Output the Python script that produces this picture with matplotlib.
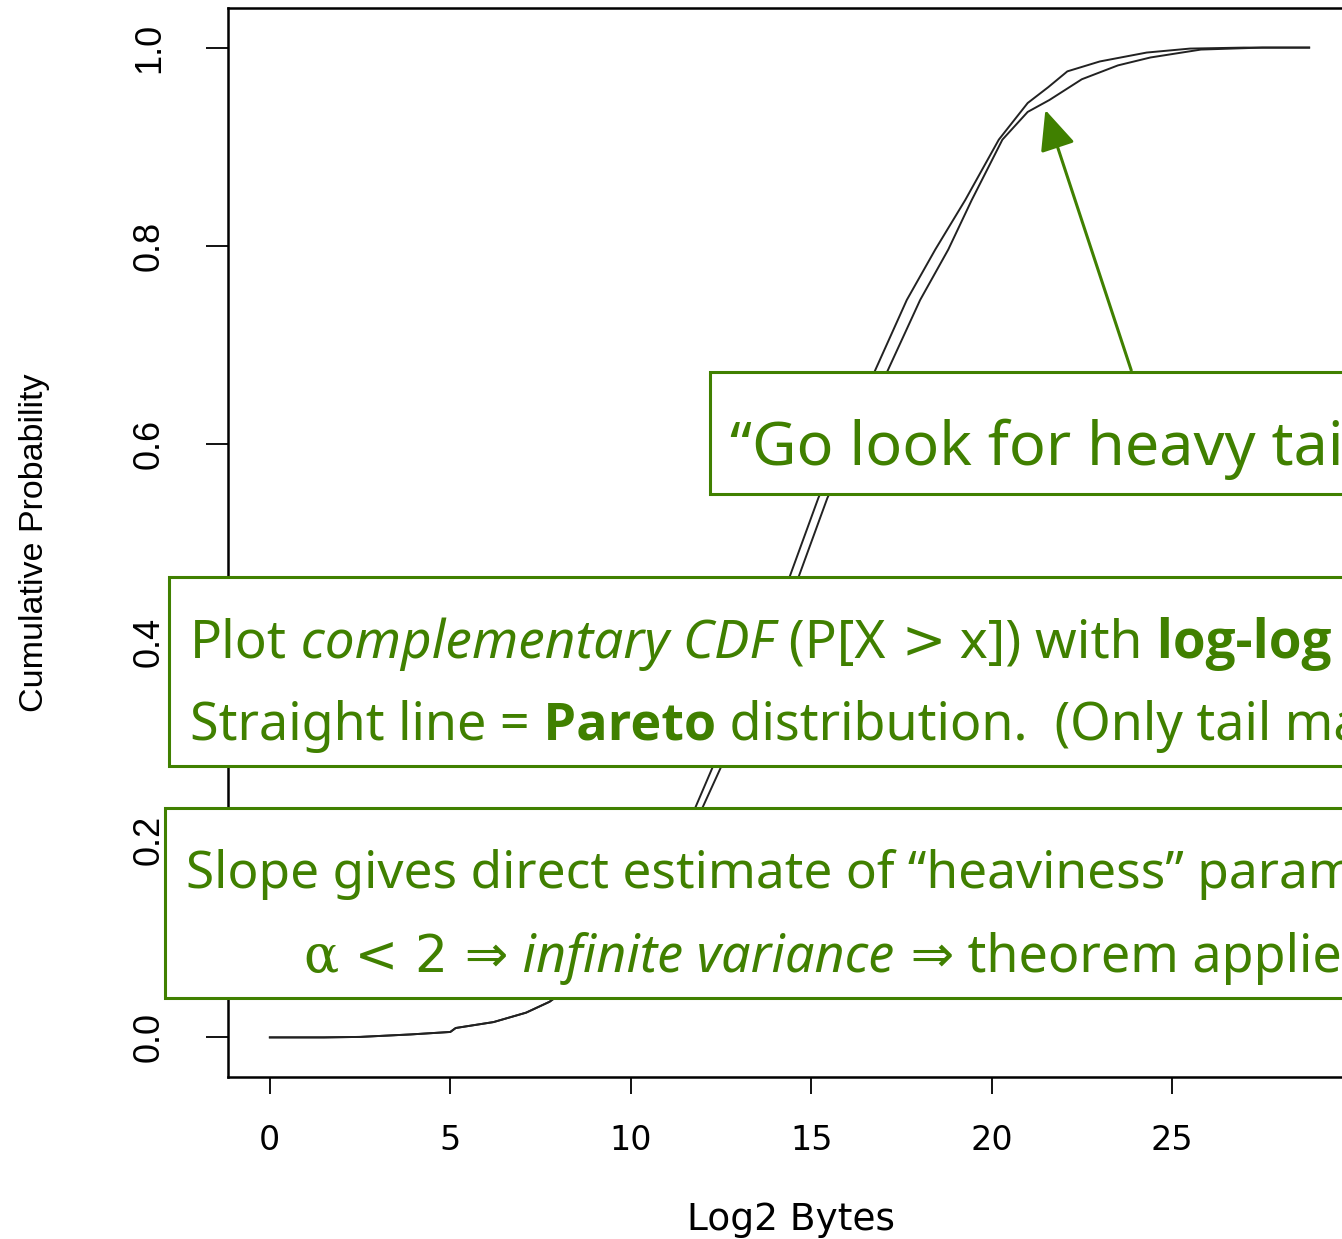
import matplotlib
matplotlib.use('Agg')
import matplotlib.pyplot as plt
from matplotlib import font_manager as fm
from matplotlib.patches import Rectangle

# --- данные: две эмпирические CDF размеров (log2 байт) ---
size_a = [0, 1.5, 2.5, 3.9, 5.0, 5.15, 6.2, 7.1, 7.75, 8.6, 9.5, 10.4, 11.2, 11.8,
          12.27, 13.0, 13.7, 14.4, 15.2, 16.0, 16.75, 17.65, 18.44, 19.27, 20.2,
          21.0, 21.57, 22.1, 23.0, 24.3, 25.5, 27.0, 28.8]
prob_a = [0, 0.0, 0.0005, 0.003, 0.0055, 0.0095, 0.0155, 0.025, 0.036, 0.06, 0.095,
          0.14, 0.19, 0.233, 0.273, 0.335, 0.40, 0.465, 0.545, 0.61, 0.672, 0.745,
          0.796, 0.846, 0.907, 0.944, 0.96, 0.976, 0.986, 0.995, 0.999, 1.0, 1.0]

size_b = [0, 1.5, 2.5, 3.9, 5.0, 5.15, 6.2, 7.1, 7.75, 8.7, 9.6, 10.5, 11.35, 12.0,
          12.5, 13.2, 13.95, 14.65, 15.45, 16.3, 17.1, 18.02, 18.8, 19.45, 20.3,
          21.0, 21.6, 22.5, 23.5, 24.4, 25.8, 27.5, 28.8]
prob_b = [0, 0.0, 0.0005, 0.003, 0.0055, 0.0095, 0.0155, 0.025, 0.036, 0.06, 0.095,
          0.14, 0.19, 0.233, 0.273, 0.335, 0.40, 0.465, 0.545, 0.61, 0.672, 0.745,
          0.796, 0.846, 0.907, 0.935, 0.947, 0.968, 0.982, 0.99, 0.998, 1.0, 1.0]

x_ticks = [0, 5, 10, 15, 20, 25]
y_ticks = [0.0, 0.2, 0.4, 0.6, 0.8, 1.0]
y_tick_labels = ['0.0', '0.2', '0.4', '0.6', '0.8', '1.0']

GREEN = '#408000'
W, H = 1342, 1239

fig = plt.figure(figsize=(W / 100, H / 100), dpi=100)
ax = fig.add_axes([228 / W, 1 - 1077 / H, (1351 - 228) / W, (1077 - 8) / H])

ax.plot(size_a, prob_a, color='#222222', lw=1.4)
ax.plot(size_b, prob_b, color='#222222', lw=1.4)

ax.set_xlim(-1.16, 29.96)
ax.set_ylim(-0.04, 1.04)
for sp in ax.spines.values():
    sp.set_linewidth(1.8)

ax.set_xticks(x_ticks)
ax.set_xticklabels([str(v) for v in x_ticks], family='DejaVu Sans', fontsize=24)
ax.set_yticks(y_ticks)
ax.set_yticklabels(y_tick_labels, family='Liberation Sans', fontsize=26,
                   rotation=90, va='center')
ax.tick_params(axis='x', direction='out', length=12, width=1.3, pad=22)
ax.tick_params(axis='y', direction='out', length=16, width=1.3, pad=28)

fig.text(35 / W, 1 - 543 / H, 'Cumulative Probability', rotation=90,
         ha='center', va='center', family='Liberation Sans', fontsize=24.5)
fig.text(791 / W, 1 - 1220 / H, 'Log2 Bytes', ha='center', va='center',
         family='DejaVu Sans', fontsize=27)

# стрелка к хвосту распределения
ax.annotate('', xy=(21.49, 0.937), xytext=(23.87, 0.674),
            arrowprops=dict(arrowstyle='-|>,head_length=0.45,head_width=0.2',
                            color=GREEN, lw=2.2, mutation_scale=55,
                            shrinkA=0, shrinkB=0))

# --- зелёные плашки с подписями ---
def box(x0, y0, x1, y1):
    fig.patches.append(Rectangle((x0 / W, 1 - y1 / H), (x1 - x0) / W, (y1 - y0) / H,
                                 transform=fig.transFigure, facecolor='white',
                                 edgecolor=GREEN, lw=2.2, zorder=1))

box(710, 372, 1400, 494)
box(169, 577, 1400, 766)
box(165, 808, 1400, 998)


def has_bold(name):
    for f in fm.fontManager.ttflist:
        if f.name != name:
            continue
        w = f.weight
        if isinstance(w, str):
            w = fm.weight_dict.get(w, 400)
        if w >= 600:
            return True
    return False

bold_family = next((n for n in ['Noto Sans', 'Open Sans', 'Lato', 'Roboto']
                    if has_bold(n)), 'DejaVu Sans')

FS = 37.5
body = dict(family=['Noto Sans', 'DejaVu Sans'], fontsize=FS)
ital = dict(body, style='italic')
bold = dict(family=[bold_family, 'DejaVu Sans'], fontsize=FS, weight='bold')
sym = dict(family=['DejaVu Sans'], fontsize=FS)
greek = dict(family=['DejaVu Serif'], fontsize=FS)
big = dict(body, fontsize=44)

renderer = fig.canvas.get_renderer()

def rich_line(x_px, base_px, parts, size=None):
    x = x_px
    for s, kw in parts:
        if size:
            kw = dict(kw, fontsize=size)
        t = fig.text(x / W, 1 - base_px / H, s, ha='left', va='baseline',
                     color=GREEN, zorder=3, **kw)
        x = t.get_window_extent(renderer).x1

rich_line(730, 465, [('\u201cGo look for heavy tails\u201d', big)])
rich_line(190, 658, [('Plot', body), (' complementary CDF', ital),
                     (' (P[X', body), (' >', sym), (' x]) with', body),
                     (' log-log', bold), (' scale', body)], size=38.2)
rich_line(190, 740, [('Straight line =', body), (' Pareto', bold),
                     (' distribution.  (Only tail matters)', body)])
rich_line(186, 888, [('Slope gives direct estimate of \u201cheaviness\u201d parameter',
                      body)], size=37)
rich_line(303, 972, [('\u03b1', greek), (' < 2 \u21d2', sym),
                     (' infinite variance', ital), (' \u21d2', sym),
                     (' theorem applies', body)])

fig.savefig('out.png', dpi=100)
